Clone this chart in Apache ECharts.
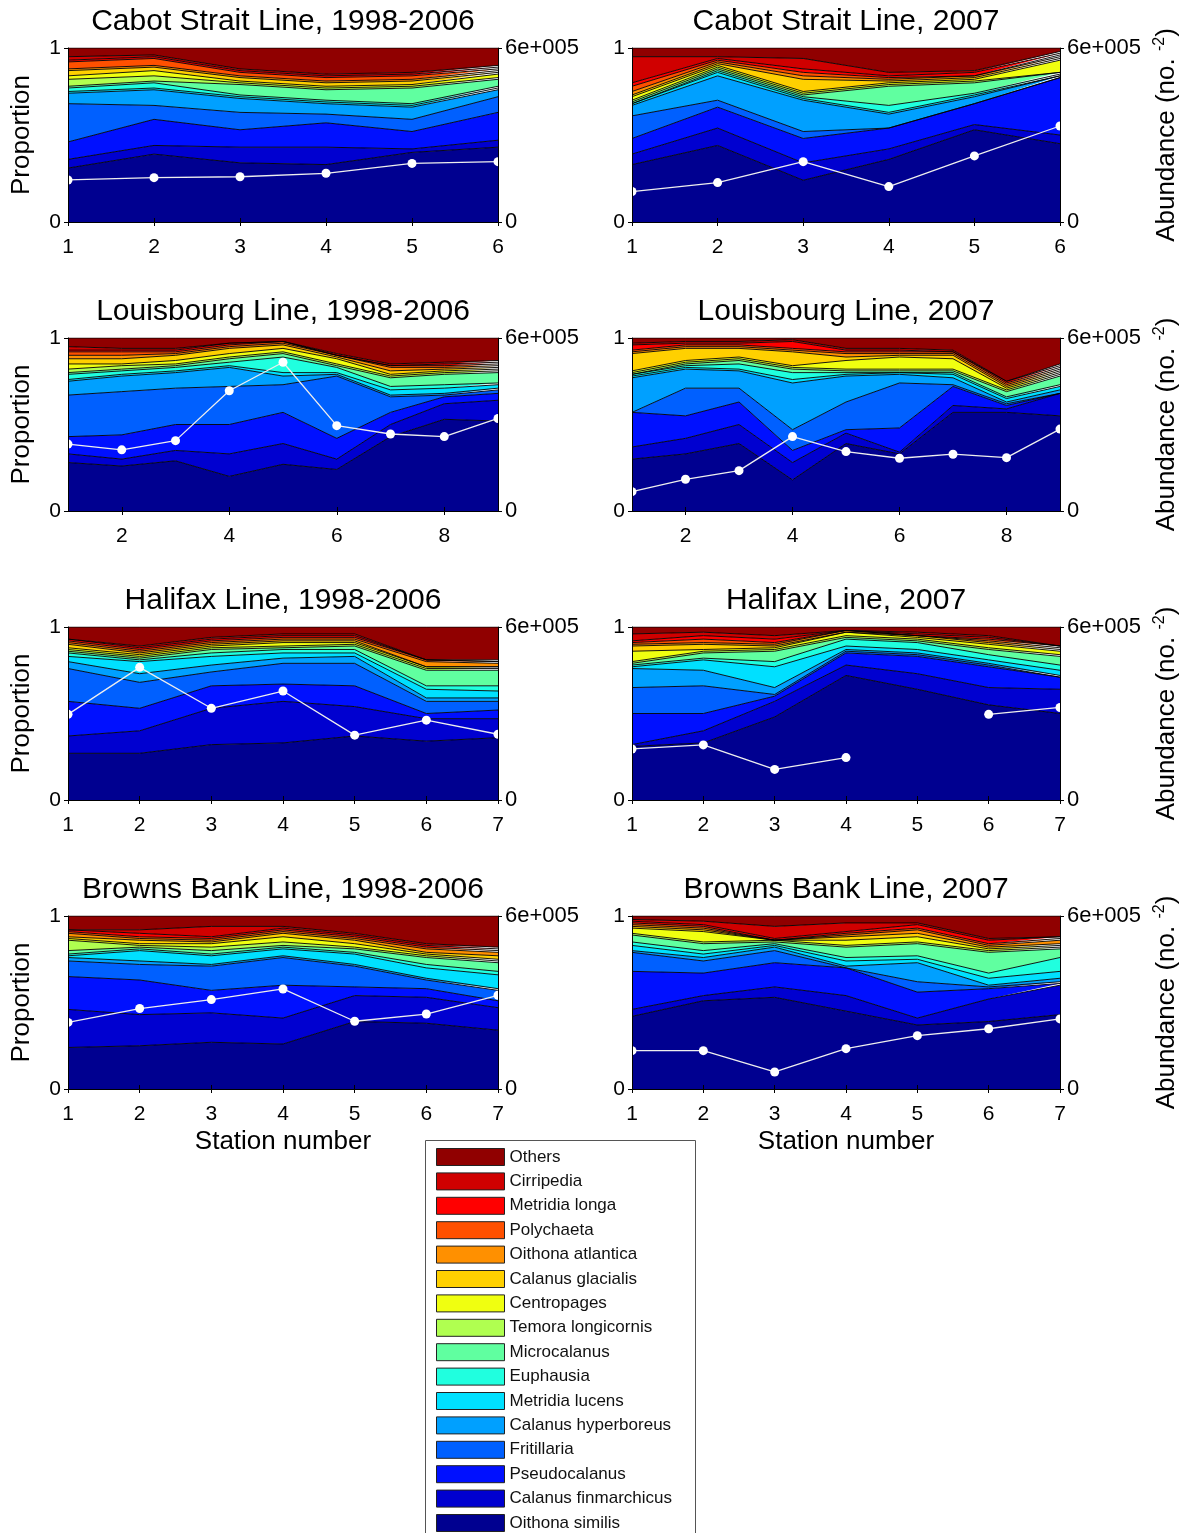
<!DOCTYPE html>
<html>
<head>
<meta charset="utf-8">
<script src="https://cdn.jsdelivr.net/npm/echarts@6/dist/echarts.min.js"></script>
<style>
html, body { margin: 0; padding: 0; background: #ffffff; }
#chart { width: 1183px; height: 1533px; }
</style>
</head>
<body>
<div id="chart"></div>
<script>
// Taxa in stacking order, bottom layer first
const species = ['Oithona similis', 'Calanus finmarchicus', 'Pseudocalanus', 'Fritillaria',
  'Calanus hyperboreus', 'Metridia lucens', 'Euphausia', 'Microcalanus', 'Temora longicornis',
  'Centropages', 'Calanus glacialis', 'Oithona atlantica', 'Polychaeta', 'Metridia longa',
  'Cirripedia', 'Others'];
const speciesColors = ['#000090', '#0000d0', '#0010ff', '#0060ff', '#00a0ff', '#00e0ff',
  '#20ffdf', '#60ffa0', '#b0ff50', '#f0ff10', '#ffd000', '#ff9000', '#ff5000', '#ff0000',
  '#d00000', '#900000'];

// Station numbers along each line
const cabotStations = ['1', '2', '3', '4', '5', '6'];
const louisbourgStations = ['1', '2', '3', '4', '5', '6', '7', '8', '9'];
const halifaxStations = ['1', '2', '3', '4', '5', '6', '7'];
const brownsStations = ['1', '2', '3', '4', '5', '6', '7'];

// Proportion of each taxon at each station (one row per station, taxa in stacking order)
const cabotClimProps = [
  [.31, .05, .10, .22, .06, .01, .02, .01, .04, .02, .03, .01, .04, .01, .02, .05],
  [.39, .05, .15, .08, .09, .01, .03, .01, .03, .03, .02, .01, .04, .01, .01, .04],
  [.34, .09, .10, .10, .08, .01, .01, .06, .01, .01, .02, .01, .02, .01, .01, .12],
  [.33, .10, .14, .05, .06, .01, .01, .06, .01, .01, .02, .01, .02, .01, .01, .15],
  [.40, .02, .10, .07, .07, .01, .01, .09, .01, .01, .02, .01, .02, .01, .01, .14],
  [.43, .04, .16, .09, .04, .01, .01, .04, .01, .02, .01, .01, .01, .01, .01, .10]
];
const cabot2007Props = [
  [.33, .06, .09, .13, .06, .01, .00, .01, .01, .02, .01, .02, .03, .02, .15, .05],
  [.44, .10, .12, .04, .14, .02, .01, .01, .01, .01, .01, .01, .01, .01, .01, .05],
  [.24, .10, .14, .04, .18, .01, .01, .01, .01, .01, .07, .02, .02, .02, .06, .06],
  [.36, .06, .12, .00, .08, .01, .04, .11, .01, .01, .01, .01, .01, .01, .02, .14],
  [.53, .03, .12, .00, .04, .01, .01, .06, .01, .01, .01, .01, .00, .02, .01, .13],
  [.45, .05, .33, .00, .01, .00, .01, .01, .00, .07, .01, .01, .01, .01, .01, .02]
];
const louisbourgClimProps = [
  [.28, .05, .10, .24, .08, .01, .03, .01, .02, .03, .03, .02, .02, .01, .02, .05],
  [.26, .04, .14, .25, .09, .01, .02, .01, .02, .01, .03, .02, .02, .01, .01, .06],
  [.29, .06, .15, .21, .09, .01, .02, .01, .01, .02, .03, .01, .01, .01, .01, .06],
  [.20, .13, .17, .22, .11, .01, .02, .02, .01, .02, .03, .01, .01, .01, .00, .03],
  [.27, .12, .18, .16, .05, .02, .09, .02, .01, .02, .02, .01, .01, .00, .00, .02],
  [.24, .06, .12, .36, .01, .01, .03, .01, .01, .03, .01, .01, .00, .00, .01, .09],
  [.43, .07, .07, .09, .01, .03, .02, .05, .01, .01, .02, .02, .01, .00, .01, .15],
  [.53, .09, .04, .01, .01, .03, .02, .06, .01, .01, .01, .01, .01, .01, .01, .14],
  [.52, .12, .04, .02, .01, .02, .01, .06, .01, .01, .01, .01, .01, .01, .01, .13]
];
const louisbourg2007Props = [
  [.30, .07, .20, .00, .20, .01, .01, .00, .01, .01, .10, .01, .01, .03, .01, .03],
  [.33, .09, .13, .16, .11, .01, .01, .01, .01, .01, .07, .01, .01, .01, .01, .02],
  [.39, .11, .13, .08, .10, .01, .03, .02, .01, .01, .05, .01, .01, .01, .01, .02],
  [.18, .10, .07, .12, .27, .02, .04, .02, .01, .01, .08, .01, .01, .04, .01, .01],
  [.39, .06, .02, .16, .15, .01, .01, .01, .01, .05, .02, .02, .01, .01, .01, .06],
  [.33, .01, .14, .26, .05, .01, .00, .01, .01, .07, .01, .01, .01, .01, .01, .06],
  [.57, .04, .11, .01, .04, .02, .01, .01, .01, .06, .02, .01, .01, .00, .01, .07],
  [.57, .02, .02, .01, .01, .02, .01, .03, .01, .01, .01, .01, .01, .01, .00, .25],
  [.55, .13, .00, .00, .02, .02, .01, .05, .01, .01, .01, .01, .01, .01, .01, .15]
];
const halifaxClimProps = [
  [.27, .10, .20, .19, .04, .03, .02, .01, .01, .01, .02, .01, .01, .01, .00, .07],
  [.27, .13, .13, .15, .05, .07, .01, .01, .01, .01, .01, .01, .01, .01, .01, .11],
  [.32, .21, .13, .08, .04, .05, .02, .02, .01, .01, .01, .01, .01, .01, .01, .06],
  [.33, .24, .10, .12, .03, .03, .02, .01, .01, .02, .01, .01, .01, .01, .01, .04],
  [.37, .17, .12, .13, .04, .02, .02, .02, .01, .01, .01, .01, .01, .01, .01, .04],
  [.34, .13, .03, .07, .02, .05, .02, .09, .01, .01, .00, .03, .01, .00, .00, .19],
  [.36, .11, .05, .05, .02, .04, .03, .09, .01, .01, .00, .02, .01, .00, .01, .19]
];
const halifax2007Props = [
  [.31, .01, .18, .15, .11, .01, .01, .01, .01, .06, .03, .01, .01, .01, .04, .04],
  [.33, .07, .10, .16, .09, .06, .01, .03, .01, .01, .03, .01, .02, .02, .02, .03],
  [.48, .09, .03, .01, .04, .12, .03, .06, .01, .01, .01, .01, .01, .02, .02, .05],
  [.72, .06, .07, .01, .01, .02, .04, .01, .01, .02, .00, .01, .00, .00, .00, .02],
  [.64, .09, .10, .01, .01, .02, .04, .01, .01, .01, .01, .00, .00, .01, .01, .03],
  [.55, .10, .12, .01, .01, .02, .03, .03, .01, .02, .01, .01, .01, .01, .01, .05],
  [.50, .14, .07, .00, .01, .03, .03, .05, .01, .02, .01, .01, .01, .00, .00, .11]
];
const brownsClimProps = [
  [.24, .22, .19, .09, .02, .01, .01, .02, .06, .01, .01, .02, .01, .01, .00, .08],
  [.25, .18, .20, .09, .02, .06, .01, .01, .01, .01, .02, .01, .01, .02, .02, .08],
  [.27, .17, .13, .14, .01, .05, .01, .02, .02, .02, .01, .01, .01, .01, .06, .06],
  [.26, .15, .19, .16, .01, .04, .01, .01, .02, .03, .02, .01, .01, .01, .01, .06],
  [.39, .15, .05, .12, .01, .06, .01, .02, .01, .02, .02, .01, .01, .01, .01, .10],
  [.38, .15, .05, .05, .01, .06, .02, .04, .01, .01, .01, .02, .01, .01, .01, .16],
  [.34, .13, .04, .06, .01, .08, .02, .05, .01, .01, .02, .02, .01, .01, .01, .18]
];
const browns2007Props = [
  [.42, .04, .22, .11, .01, .03, .02, .04, .01, .03, .01, .01, .01, .01, .01, .02],
  [.51, .03, .13, .07, .02, .02, .02, .04, .01, .06, .01, .01, .01, .01, .02, .03],
  [.53, .06, .14, .07, .02, .01, .01, .01, .01, .00, .00, .00, .00, .01, .07, .06],
  [.45, .09, .16, .00, .01, .03, .02, .06, .01, .03, .02, .01, .01, .01, .05, .04],
  [.37, .04, .15, .06, .11, .02, .02, .07, .01, .03, .02, .02, .01, .02, .01, .04],
  [.39, .13, .06, .01, .01, .04, .03, .12, .01, .01, .01, .01, .01, .02, .01, .13],
  [.43, .17, .01, .01, .02, .04, .08, .05, .01, .01, .01, .02, .01, .01, .00, .12]
];

// Total abundance (individuals per m²) at each station; null = not sampled
const cabotClimAbund = [145000, 153000, 156000, 168000, 202000, 208000];
const cabot2007Abund = [105000, 136000, 208000, 122000, 228000, 331000];
const louisbourgClimAbund = [232000, 212000, 244000, 417000, 516000, 296000, 267000, 258000, 321000];
const louisbourg2007Abund = [67000, 110000, 140000, 258000, 206000, 183000, 197000, 185000, 284000];
const halifaxClimAbund = [297000, 460000, 318000, 378000, 225000, 277000, 228000];
const halifax2007Abund = [177000, 191000, 106000, 147000, null, 297000, 321000];
const brownsClimAbund = [231000, 279000, 310000, 347000, 235000, 260000, 325000];
const browns2007Abund = [133000, 133000, 59000, 140000, 185000, 209000, 243000];

const abundanceMax = 600000;

const panels = [
  { title: 'Cabot Strait Line, 1998-2006', stations: cabotStations, props: cabotClimProps, abund: cabotClimAbund, row: 0, col: 0, everyOther: false },
  { title: 'Cabot Strait Line, 2007', stations: cabotStations, props: cabot2007Props, abund: cabot2007Abund, row: 0, col: 1, everyOther: false },
  { title: 'Louisbourg Line, 1998-2006', stations: louisbourgStations, props: louisbourgClimProps, abund: louisbourgClimAbund, row: 1, col: 0, everyOther: true },
  { title: 'Louisbourg Line, 2007', stations: louisbourgStations, props: louisbourg2007Props, abund: louisbourg2007Abund, row: 1, col: 1, everyOther: true },
  { title: 'Halifax Line, 1998-2006', stations: halifaxStations, props: halifaxClimProps, abund: halifaxClimAbund, row: 2, col: 0, everyOther: false },
  { title: 'Halifax Line, 2007', stations: halifaxStations, props: halifax2007Props, abund: halifax2007Abund, row: 2, col: 1, everyOther: false },
  { title: 'Browns Bank Line, 1998-2006', stations: brownsStations, props: brownsClimProps, abund: brownsClimAbund, row: 3, col: 0, everyOther: false },
  { title: 'Browns Bank Line, 2007', stations: brownsStations, props: browns2007Props, abund: browns2007Abund, row: 3, col: 1, everyOther: false }
];

// Panel geometry
const FONT = "'Liberation Sans', Arial, Helvetica, sans-serif";
const colLeft = [68, 632];
const colWidth = [430, 428];
const rowTop = [48, 338, 627, 916];
const rowHeight = [174, 173, 173, 173];

const grid = [], xAxis = [], yAxis = [], series = [], title = [];
const axisLine = { show: true, lineStyle: { color: '#000', width: 1 } };
const tickStyle = { color: '#000', width: 1 };
const labelStyle = { color: '#000', fontSize: 21, fontFamily: FONT };

panels.forEach((p, i) => {
  const left = colLeft[p.col], top = rowTop[p.row];
  const width = colWidth[p.col], height = rowHeight[p.row];
  grid.push({ left: left, top: top, width: width, height: height });

  title.push({
    text: p.title, left: left + width / 2, top: top - 41, textAlign: 'center', padding: 0,
    textStyle: { fontSize: 30, fontWeight: 'normal', color: '#000', fontFamily: FONT }
  });

  const tickInterval = p.everyOther ? (idx) => idx % 2 === 1 : 0;
  const isBottom = p.row === 3;
  xAxis.push({
    type: 'category', gridIndex: i, data: p.stations, boundaryGap: false, position: 'bottom', z: 10,
    axisLine: axisLine,
    axisTick: { show: true, inside: false, length: 4, interval: tickInterval, lineStyle: tickStyle },
    axisLabel: Object.assign({ interval: tickInterval, margin: 15 }, labelStyle),
    splitLine: { show: false },
    name: isBottom ? 'Station number' : '', nameLocation: 'middle', nameGap: 40,
    nameTextStyle: { fontSize: 26, color: '#000', fontFamily: FONT }
  });
  xAxis.push({
    type: 'category', gridIndex: i, data: p.stations, boundaryGap: false, position: 'top', z: 10,
    axisLine: axisLine,
    axisTick: { show: true, inside: false, length: 4, interval: tickInterval, lineStyle: tickStyle },
    axisLabel: { show: false }, splitLine: { show: false }
  });
  yAxis.push({
    type: 'value', gridIndex: i, min: 0, max: 1, interval: 1, position: 'left', z: 10,
    axisLine: axisLine,
    axisTick: { show: true, inside: false, length: 4, lineStyle: tickStyle },
    axisLabel: Object.assign({ margin: 7 }, labelStyle),
    splitLine: { show: false },
    name: p.col === 0 ? 'Proportion' : '', nameLocation: 'middle', nameGap: 33, nameRotate: 90,
    nameTextStyle: { fontSize: 26, color: '#000', fontFamily: FONT }
  });
  yAxis.push({
    type: 'value', gridIndex: i, min: 0, max: abundanceMax, interval: abundanceMax, position: 'right', z: 10,
    axisLine: axisLine,
    axisTick: { show: true, inside: false, length: 4, lineStyle: tickStyle },
    axisLabel: Object.assign({ margin: 7, formatter: (v) => (v === 0 ? '0' : '6e+005') }, labelStyle, { fontSize: 22 }),
    splitLine: { show: false },
    name: p.col === 1 ? 'Abundance (no. {sup|-2})' : '', nameLocation: 'middle', nameGap: 92, nameRotate: 90,
    nameTextStyle: {
      fontSize: 26, color: '#000', fontFamily: FONT, lineHeight: 30,
      rich: { sup: { fontSize: 16, lineHeight: 16, verticalAlign: 'top', color: '#000', fontFamily: FONT } }
    }
  });

  species.forEach((sp, k) => {
    series.push({
      type: 'line', name: sp, xAxisIndex: 2 * i, yAxisIndex: 2 * i, stack: 'panel' + i,
      data: p.props.map((row) => row[k]),
      symbol: 'none', smooth: false, silent: true, z: 2,
      color: speciesColors[k],
      itemStyle: { color: speciesColors[k] },
      lineStyle: { color: '#000', width: 0.9 },
      areaStyle: { color: speciesColors[k], opacity: 1 }
    });
  });

  series.push({
    type: 'line', name: 'Abundance', xAxisIndex: 2 * i, yAxisIndex: 2 * i + 1,
    data: p.abund, connectNulls: false, silent: true, z: 6,
    symbol: 'circle', symbolSize: 9,
    lineStyle: { color: '#eeeeee', width: 1.3 },
    itemStyle: { color: '#ffffff', borderWidth: 0 }
  });
});

const chart = echarts.init(document.getElementById('chart'), null, { renderer: 'canvas' });
chart.setOption({
  animation: false,
  backgroundColor: '#ffffff',
  title: title,
  grid: grid,
  xAxis: xAxis,
  yAxis: yAxis,
  series: series,
  legend: {
    orient: 'vertical', left: 436, top: 1148, width: 250, height: 400, padding: 0,
    itemWidth: 68, itemHeight: 17, itemGap: 6.4, icon: 'rect',
    selectedMode: false,
    data: species.slice().reverse(),
    itemStyle: { borderColor: '#222', borderWidth: 1 },
    textStyle: { fontSize: 17, color: '#111', fontFamily: FONT }
  },
  graphic: [{
    type: 'rect', z: -1, silent: true,
    shape: { x: 425.5, y: 1140.5, width: 270, height: 420 },
    style: { fill: '#ffffff', stroke: '#555', lineWidth: 1 }
  }]
});
</script>
</body>
</html>
